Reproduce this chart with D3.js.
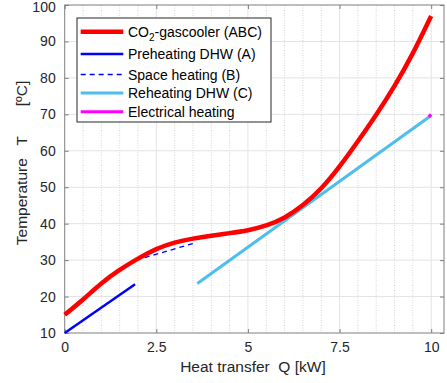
<!DOCTYPE html>
<html>
<head>
<meta charset="utf-8">
<script src="https://cdn.jsdelivr.net/npm/d3@7"></script>
<style>
  html, body { margin: 0; padding: 0; background: #fff; }
  svg { display: block; font-family: "Liberation Sans", Arial, sans-serif; }
</style>
</head>
<body>
<svg id="chart" width="447" height="383"></svg>
<script>
// Heat transfer Q [kW] vs temperature T [°C]
const gascoolerQ = [0, 0.5, 1, 1.5, 2, 2.5, 3, 3.5, 4, 4.5, 5, 5.5, 6, 6.5, 7, 7.5, 8, 8.5, 9, 9.5, 10];
const gascoolerT = [15, 19.2, 23.6, 27.3, 30.4, 33.0, 34.8, 35.9, 36.7, 37.4, 38.2, 39.5, 41.7, 45.1, 49.7, 55.7, 62.6, 69.9, 77.8, 86.8, 97];

const preheatQ = [0, 1.92];
const preheatT = [10, 23.4];

const spaceQ = [1.95, 3.55];
const spaceT = [30, 34.7];

const reheatQ = [3.62, 10];
const reheatT = [23.6, 69.7];

const electricQ = [9.93, 10];
const electricT = [69.3, 70];

const xTicks = [0, 2.5, 5, 7.5, 10];
const xTickLabels = ["0", "2.5", "5", "7.5", "10"];
const yTicks = [10, 20, 30, 40, 50, 60, 70, 80, 90, 100];
const xMinorGrid = d3.range(0.5, 10.35, 0.5).filter(v => Math.abs(v / 2.5 - Math.round(v / 2.5)) > 1e-6);

const legendLabels = ["CO2-gascooler (ABC)", "Preheating DHW (A)", "Space heating (B)", "Reheating DHW (C)", "Electrical heating"];

const svg = d3.select("#chart");
const plotLeft = 64.7, plotRight = 444, plotTop = 5, plotBottom = 333;

const x = d3.scaleLinear().domain([0, 10.35]).range([plotLeft, plotRight]);
const y = d3.scaleLinear().domain([10, 100]).range([plotBottom, plotTop]);

const textColor = "#262626";
const axisColor = "#7f7f7f";

// grid
const grid = svg.append("g");
grid.selectAll(".minor").data(xMinorGrid).enter().append("line")
  .attr("x1", d => x(d)).attr("x2", d => x(d))
  .attr("y1", plotTop).attr("y2", plotBottom)
  .attr("stroke", "#d4d4d4").attr("stroke-width", 1).attr("stroke-dasharray", "1,1.5");
grid.selectAll(".majx").data(xTicks.slice(1)).enter().append("line")
  .attr("x1", d => x(d)).attr("x2", d => x(d))
  .attr("y1", plotTop).attr("y2", plotBottom)
  .attr("stroke", "#e3e3e3").attr("stroke-width", 1);
grid.selectAll(".majy").data(yTicks.slice(1, -1)).enter().append("line")
  .attr("x1", plotLeft).attr("x2", plotRight)
  .attr("y1", d => y(d)).attr("y2", d => y(d))
  .attr("stroke", "#e3e3e3").attr("stroke-width", 1);

// axes (ticks pointing inward, box on)
const tickLen = 4;
const xAxisB = d3.axisBottom(x).tickValues(xTicks).tickFormat((d, i) => xTickLabels[i]).tickSizeInner(-tickLen).tickSizeOuter(0).tickPadding(9);
const xAxisT = d3.axisTop(x).tickValues(xTicks).tickFormat("").tickSizeInner(-tickLen).tickSizeOuter(0);
const yAxisL = d3.axisLeft(y).tickValues(yTicks).tickSizeInner(-tickLen).tickSizeOuter(0).tickPadding(9);
const yAxisR = d3.axisRight(y).tickValues(yTicks).tickFormat("").tickSizeInner(-tickLen).tickSizeOuter(0);

function styleAxis(g) {
  g.select(".domain").remove();
  g.selectAll(".tick line").attr("stroke", axisColor);
  g.selectAll("text").attr("fill", textColor).style("font-size", "14px").style("font-family", "Liberation Sans, Arial, sans-serif");
}
svg.append("g").attr("transform", `translate(0,${plotBottom})`).call(xAxisB).call(styleAxis);
svg.append("g").attr("transform", `translate(0,${plotTop})`).call(xAxisT).call(styleAxis);
const yAxisG = svg.append("g").attr("transform", `translate(${plotLeft},0)`).call(yAxisL).call(styleAxis);
// keep the top label inside the canvas
yAxisG.selectAll(".tick text").filter(d => d === 100).attr("dy", "0.36em").attr("y", 1);
svg.append("g").attr("transform", `translate(${plotRight},0)`).call(yAxisR).call(styleAxis);

svg.append("rect").attr("x", plotLeft).attr("y", plotTop).attr("width", plotRight - plotLeft).attr("height", plotBottom - plotTop)
  .attr("fill", "none").attr("stroke", axisColor).attr("stroke-width", 1);

// data lines
const toPts = (qs, ts) => qs.map((q, i) => [q, ts[i]]);
const line = d3.line().x(d => x(d[0])).y(d => y(d[1]));
const smooth = d3.line().x(d => x(d[0])).y(d => y(d[1])).curve(d3.curveNatural);

const plot = svg.append("g");
plot.append("path").datum(toPts(reheatQ, reheatT)).attr("d", line)
  .attr("fill", "none").attr("stroke", "#4dbeee").attr("stroke-width", 3);
plot.append("path").datum(toPts(electricQ, electricT)).attr("d", line)
  .attr("fill", "none").attr("stroke", "#ff00ff").attr("stroke-width", 3);
plot.append("path").datum(toPts(preheatQ, preheatT)).attr("d", line)
  .attr("fill", "none").attr("stroke", "#0000ff").attr("stroke-width", 2.5);
plot.append("path").datum(toPts(spaceQ, spaceT)).attr("d", line)
  .attr("fill", "none").attr("stroke", "#0000ff").attr("stroke-width", 1.3).attr("stroke-dasharray", "5,4");
plot.append("path").datum(toPts(gascoolerQ, gascoolerT)).attr("d", smooth)
  .attr("fill", "none").attr("stroke", "#ff0000").attr("stroke-width", 4.5);

// legend
const lg = svg.append("g");
lg.append("rect").attr("x", 77).attr("y", 18).attr("width", 194).attr("height", 104)
  .attr("fill", "#fff").attr("stroke", "#262626").attr("stroke-width", 1);
const rowsY = [31.7, 54, 74.5, 93, 111.7];
const legendStyles = [
  { c: "#ff0000", w: 4.5, dash: null },
  { c: "#0000ff", w: 2.5, dash: null },
  { c: "#0000ff", w: 1.3, dash: "5,4" },
  { c: "#4dbeee", w: 3, dash: null },
  { c: "#ff00ff", w: 3, dash: null }
];
legendLabels.forEach((lab, i) => {
  const s = legendStyles[i];
  lg.append("line").attr("x1", 80.7).attr("x2", 123.3).attr("y1", rowsY[i]).attr("y2", rowsY[i])
    .attr("stroke", s.c).attr("stroke-width", s.w).attr("stroke-dasharray", s.dash);
  const t = lg.append("text").attr("x", 128).attr("y", rowsY[i] + 5)
    .attr("fill", "#000").style("font-size", "14px");
  if (lab.startsWith("CO2")) {
    t.append("tspan").text("CO");
    t.append("tspan").attr("dy", 4).style("font-size", "10px").text("2");
    t.append("tspan").attr("dy", -4).text(lab.slice(3));
  } else {
    t.text(lab);
  }
});

// axis labels
svg.append("text").attr("x", (plotLeft + 431.2) / 2 + 5).attr("y", 372)
  .attr("text-anchor", "middle").attr("fill", textColor)
  .style("font-size", "15.5px").style("white-space", "pre")
  .text("Heat transfer  Q [kW]");
svg.append("text").attr("transform", `translate(27,163) rotate(-90)`)
  .attr("text-anchor", "middle").attr("fill", textColor)
  .style("font-size", "15.5px").style("white-space", "pre")
  .text("Temperature   T       [ºC]");
</script>
</body>
</html>
